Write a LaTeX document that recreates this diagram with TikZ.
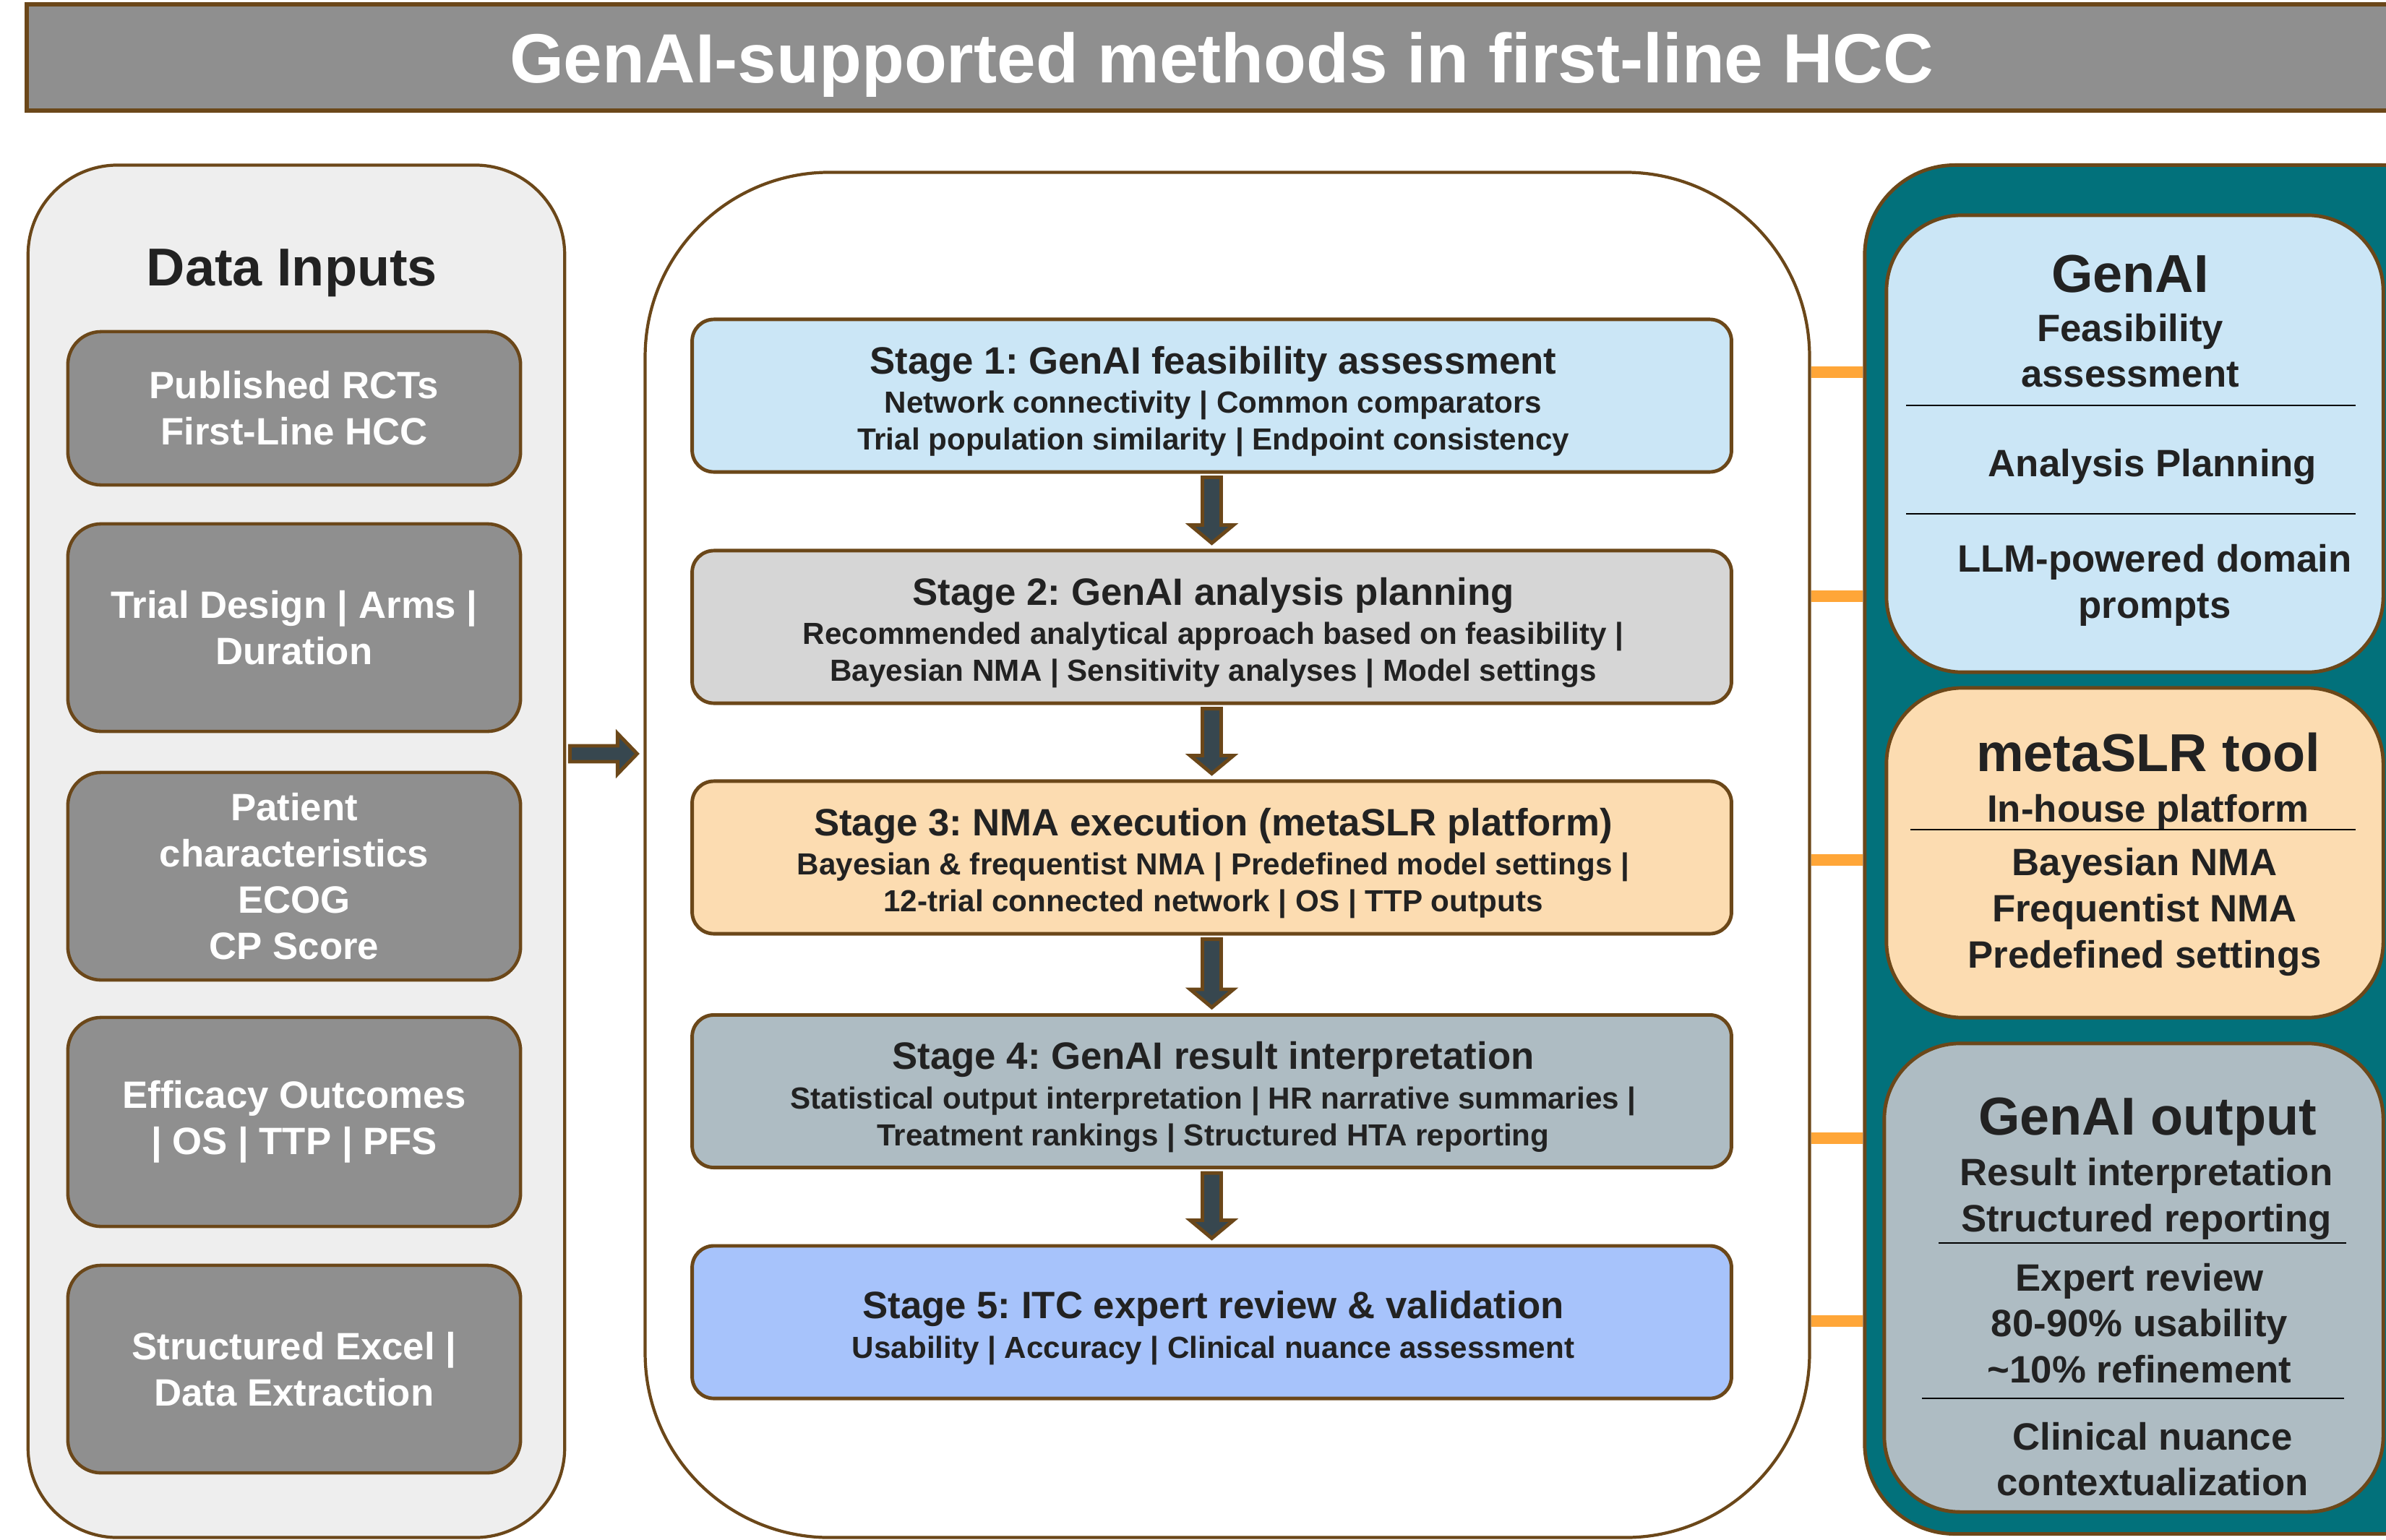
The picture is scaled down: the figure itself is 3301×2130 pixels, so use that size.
\documentclass[tikz,border=0pt]{standalone}
\usepackage{fontspec}
\setmainfont{Liberation Sans}
\frenchspacing
\usetikzlibrary{calc,backgrounds}
\definecolor{brn}{HTML}{6B4719}
\definecolor{dgray}{HTML}{8F8F8F}
\definecolor{lpanel}{HTML}{EEEEEE}
\definecolor{tealc}{HTML}{02717B}
\definecolor{lblue}{HTML}{CBE6F6}
\definecolor{peach}{HTML}{FCDCB1}
\definecolor{bgray}{HTML}{AEBCC3}
\definecolor{lgray}{HTML}{D6D6D6}
\definecolor{periw}{HTML}{A7C3FB}
\definecolor{arrowc}{HTML}{37474F}
\definecolor{orng}{HTML}{FFA638}
\definecolor{txt}{HTML}{222222}
\newcommand{\stagearrow}[2]{%
  \draw[blockarrow] ($(#1.south)+(-13,5)$) -- ($(#1.south)+(13,5)$) -- ($(#2.north)+(13,-33)$) -- ($(#2.north)+(30,-33)$) -- ($(#2.north)+(0,-8)$) -- ($(#2.north)+(-30,-33)$) -- ($(#2.north)+(-13,-33)$) -- cycle;}
\begin{document}
\begin{tikzpicture}[x=0.01cm,y=-0.01cm,
  titlebar/.style={draw=brn, line width=1.7pt, fill=dgray, minimum width=33.04cm, minimum height=1.47cm, text=white, font=\bfseries\fontsize{27.4}{30}\selectfont, text depth=0pt},
  panel/.style={draw=brn, line width=1.2pt},
  inbox/.style={draw=brn, line width=1.3pt, fill=dgray, rounded corners=0.46cm, minimum width=6.26cm, text=white, align=center, font=\bfseries\fontsize{15}{18.2}\selectfont},
  stagebox/.style={draw=brn, line width=1.4pt, rounded corners=0.3cm, minimum width=14.37cm, minimum height=2.11cm},
  stagetext/.style={align=center, text=txt, inner sep=0pt, font=\bfseries\fontsize{12}{14.5}\selectfont},
  rbox/.style={draw=brn, line width=1.4pt, rounded corners=1.05cm},
  bigtitle/.style={anchor=base, text=txt, inner sep=0pt, font=\bfseries\fontsize{21}{25}\selectfont},
  rtext/.style={align=center, text=txt, inner sep=0pt, font=\bfseries\fontsize{15}{18.1}\selectfont},
  rline/.style={anchor=base, text=txt, inner sep=0pt, font=\bfseries\fontsize{15}{18.1}\selectfont},
  sepline/.style={line width=0.8pt, draw=black},
  blockarrow/.style={draw=brn, fill=arrowc, line width=1.4pt, line join=miter},
  orangelink/.style={draw=orng, line width=4.5pt}
]
\useasboundingbox (0,0) rectangle (3301,2130);
\clip (0,0) rectangle (3301,2130);

% title
\node[titlebar] (title) at (1690,79.5) {GenAI-supported methods in first-line HCC};

% left panel
\node[panel, fill=lpanel, rounded corners=1.24cm, minimum width=7.42cm, minimum height=18.98cm] (inputs) at (410,1178) {};
\node[bigtitle] (inputsT) at (404,395) {Data Inputs};
\node[inbox, minimum height=2.12cm] (d1) at (407,565) {Published RCTs\\First-Line HCC};
\node[inbox, minimum height=2.87cm] (d2) at (407,868.5) {Trial Design | Arms |\\Duration};
\node[inbox, minimum height=2.87cm] (d3) at (407,1212.5) {Patient\\characteristics\\ECOG\\CP Score};
\node[inbox, minimum height=2.89cm] (d4) at (407,1552.5) {Efficacy Outcomes\\| OS | TTP | PFS};
\node[inbox, minimum height=2.87cm] (d5) at (407,1894.5) {Structured Excel |\\Data Extraction};

% center panel
\node[panel, fill=white, rounded corners=2.55cm, minimum width=16.10cm, minimum height=18.88cm] (cpanel) at (1698,1183) {};

\node[stagebox, fill=lblue] (s1) at (1676.5,547.5) {};
\node[stagebox, fill=lgray] (s2) at (1676.5,867.5) {};
\node[stagebox, fill=peach] (s3) at (1676.5,1186.5) {};
\node[stagebox, fill=bgray] (s4) at (1676.5,1510) {};
\node[stagebox, fill=periw] (s5) at (1676.5,1829.5) {};

\node[stagetext] (s1t) at ($(s1.center)+(2,8)$) {{\fontsize{15}{18}\selectfont Stage 1: GenAI feasibility assessment}\\[0.9pt]Network connectivity | Common comparators\\Trial population similarity | Endpoint consistency};
\node[stagetext] (s2t) at ($(s2.center)+(2,8)$) {{\fontsize{15}{18}\selectfont Stage 2: GenAI analysis planning}\\[0.9pt]Recommended analytical approach based on feasibility |\\Bayesian NMA | Sensitivity analyses | Model settings};
\node[stagetext] (s3t) at ($(s3.center)+(2,8)$) {{\fontsize{15}{18}\selectfont Stage 3: NMA execution (metaSLR platform)}\\[0.9pt]Bayesian \& frequentist NMA | Predefined model settings |\\12-trial connected network | OS | TTP outputs};
\node[stagetext] (s4t) at ($(s4.center)+(2,8)$) {{\fontsize{15}{18}\selectfont Stage 4: GenAI result interpretation}\\[0.9pt]Statistical output interpretation | HR narrative summaries |\\Treatment rankings | Structured HTA reporting};
\node[stagetext] (s5t) at ($(s5.center)+(2,8)$) {{\fontsize{15}{18}\selectfont Stage 5: ITC expert review \& validation}\\[0.9pt]Usability | Accuracy | Clinical nuance assessment};

\stagearrow{s1}{s2}
\stagearrow{s2}{s3}
\stagearrow{s3}{s4}
\stagearrow{s4}{s5}

% right panel
\node[panel, fill=tealc, line width=1.4pt, rounded corners=1.25cm, minimum width=8.4cm, minimum height=18.93cm] (tools) at (3000,1175.5) {};
\node[rbox, fill=lblue, minimum width=6.87cm, minimum height=6.32cm] (genai) at (2953.5,614) {};
\node[rbox, fill=peach, minimum width=6.87cm, minimum height=4.56cm] (metaslr) at (2953.5,1180) {};
\node[rbox, fill=bgray, minimum width=6.9cm, minimum height=6.48cm] (output) at (2952,1768) {};

\node[bigtitle] (genaiT) at (2947,404) {GenAI};
\node[rtext] (genaiA) at (2947,485) {Feasibility\\assessment};
\draw[sepline] (2637,561) -- (3259,561);
\node[rline] (genaiB) at (2978,659) {Analysis Planning};
\draw[sepline] (2637,711) -- (3259,711);
\node[rtext] (genaiC) at (2981,810) {LLM-powered domain\\prompts};

\node[bigtitle] (metaT) at (2972,1067) {metaSLR tool};
\node[rline] (metaA) at (2972,1137) {In-house platform};
\draw[sepline] (2643,1148) -- (3259,1148);
\node[rtext] (metaB) at (2967,1262) {Bayesian NMA\\Frequentist NMA\\Predefined settings};

\node[bigtitle] (outT) at (2971,1570) {GenAI output};
\node[rtext] (outA) at (2969.5,1659) {Result interpretation\\Structured reporting};
\draw[sepline] (2682,1720) -- (3246,1720);
\node[rtext] (outB) at (2960,1831) {Expert review\\80-90\% usability\\\textasciitilde10\% refinement};
\draw[sepline] (2659,1935) -- (3243,1935);
\node[rtext] (outC) at (2978,2019) {Clinical nuance\\contextualization};

% connectors
\coordinate (ay) at (0,1043);
\draw[blockarrow] ($(inputs.east |- ay)+(5,-11)$) -- ($(cpanel.west |- ay)+(-36,-11)$) -- ($(cpanel.west |- ay)+(-36,-28)$) -- ($(cpanel.west |- ay)+(-9,0)$) -- ($(cpanel.west |- ay)+(-36,28)$) -- ($(cpanel.west |- ay)+(-36,11)$) -- ($(inputs.east |- ay)+(5,11)$) -- cycle;

\coordinate (o1) at (0,515);
\coordinate (o2) at (0,825);
\coordinate (o3) at (0,1190);
\coordinate (o4) at (0,1575);
\coordinate (o5) at (0,1828);
\begin{scope}[on background layer]
\foreach \k in {1,...,5}{
  \draw[orangelink] (cpanel.east |- o\k) -- (tools.west |- o\k);
}
\end{scope}
\end{tikzpicture}
\end{document}
